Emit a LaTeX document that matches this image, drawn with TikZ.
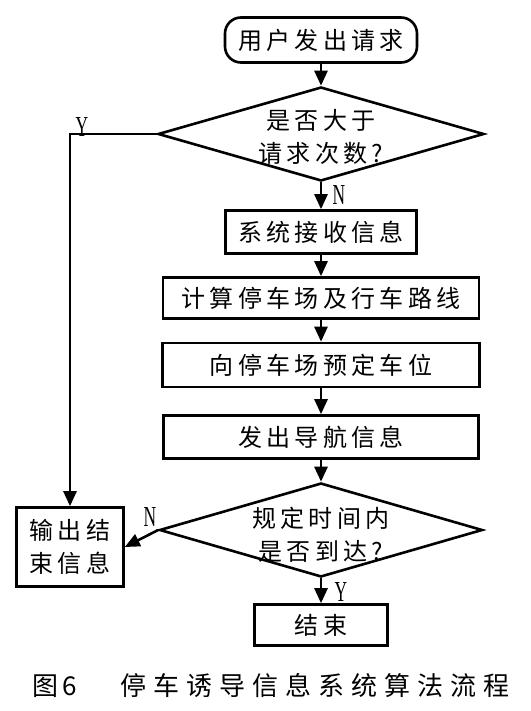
\documentclass[tikz,border=0pt]{standalone}
\usepackage{fontspec}
\usetikzlibrary{arrows.meta,shapes.geometric}
\newfontfamily\cjk{Noto Sans CJK SC}
\newfontfamily\latinser{Liberation Serif}
\newcommand\boxfont{\cjk\fontsize{24}{31}\selectfont\addfontfeature{LetterSpace=18}}
\newcommand\capfont{\cjk\fontsize{26}{32}\selectfont\addfontfeature{LetterSpace=27}}
\tikzset{
  every path/.style={line width=2.6pt},
  procbox/.style={draw, rectangle, line width=2.6pt, inner sep=0pt, font=\boxfont},
  termbox/.style={draw, rectangle, line width=2.6pt, rounded corners=16pt, inner sep=0pt, font=\boxfont},
  dia/.style={draw, diamond, inner sep=0pt, line width=2.6pt},
  diatext/.style={align=center, font=\boxfont, inner sep=0pt},
  arr/.style={line width=2.6pt, -{Triangle[length=15pt,width=13pt]}},
  yn/.style={font=\latinser\fontsize{29}{29}\selectfont, xscale=0.6, inner sep=0pt},
}
\begin{document}
\begin{tikzpicture}[x=1pt,y=-1pt]
\useasboundingbox (0,0) rectangle (530,711);
\node[termbox, minimum width=192pt, minimum height=45pt] (start) at (321,40) {用户发出请求};
\node[dia, minimum width=326pt, minimum height=94pt] (d1) at (321,134) {};
\node[diatext] (d1t) at (321,137) {是否大于\\[2pt]请求次数?};
\node[procbox, minimum width=191pt, minimum height=43pt] (b1) at (321,232) {系统接收信息};
\node[procbox, minimum width=316pt, minimum height=41pt] (b2) at (321,298) {计算停车场及行车路线};
\node[procbox, minimum width=317pt, minimum height=44pt] (b3) at (321,365) {向停车场预定车位};
\node[procbox, minimum width=315pt, minimum height=43pt] (b4) at (321,437) {发出导航信息};
\node[dia, minimum width=323pt, minimum height=94pt] (d2) at (321,530) {};
\node[diatext] (d2t) at (321,535) {规定时间内\\[2pt]是否到达?};
\node[procbox, minimum width=133pt, minimum height=41pt] (end) at (321,625) {结束};
\node[procbox, minimum width=107pt, minimum height=79pt, align=center] (out) at (70,547) {输出结\\[2pt]束信息};

\draw[arr] (start.south) -- (d1.north);
\draw[arr] (d1.south) -- (b1.north);
\draw[arr] (b1.south) -- (b2.north);
\draw[arr] (b2.south) -- (b3.north);
\draw[arr] (b3.south) -- (b4.north);
\draw[arr] (b4.south) -- (d2.north);
\draw[arr] (d2.south) -- (end.north);
\draw[arr] (d2.west) -- (out.east);
\draw[arr] (d1.west) -| (out.north);

\node[yn] (ly1) at (82,127) {Y};
\node[yn] (ln1) at (339,195) {N};
\node[yn] (ln2) at (150,517) {N};
\node[yn] (ly2) at (341,592) {Y};

\node[anchor=west, inner sep=0pt, font=\capfont] (cap1) at (31,686) {图\,6};
\node[anchor=west, inner sep=0pt, font=\capfont] (cap2) at (119,686) {停车诱导信息系统算法流程};
\end{tikzpicture}
\end{document}
